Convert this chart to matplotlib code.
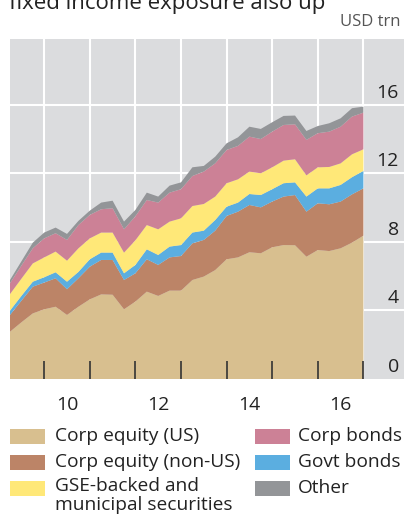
import numpy as np
import matplotlib.pyplot as plt
from matplotlib.patches import Rectangle
from matplotlib.transforms import blended_transform_factory

plt.rcParams['font.family'] = ['Open Sans', 'DejaVu Sans']

# quarterly, end of quarter, 2009Q1 .. 2016Q4
quarters = np.arange(2009.25, 2017.01, 0.25)

corp_equity_us = [2.76, 3.31, 3.83, 4.07, 4.22, 3.74, 4.22, 4.65, 4.94, 4.92, 4.07, 4.52,
                  5.10, 4.85, 5.16, 5.16, 5.78, 5.98, 6.36, 6.99, 7.10, 7.40, 7.34, 7.69,
                  7.82, 7.81, 7.14, 7.53, 7.47, 7.63, 7.96, 8.37]
corp_equity_non_us = [0.98, 1.26, 1.56, 1.56, 1.66, 1.50, 1.66, 1.91, 2.01, 2.03, 1.71, 1.65,
                      1.89, 1.81, 1.94, 2.02, 2.14, 2.14, 2.30, 2.53, 2.67, 2.76, 2.68, 2.67,
                      2.83, 2.93, 2.63, 2.73, 2.73, 2.73, 2.82, 2.76]
govt_bonds = [0.25, 0.28, 0.29, 0.31, 0.35, 0.44, 0.37, 0.43, 0.43, 0.43, 0.39, 0.49,
              0.58, 0.58, 0.63, 0.64, 0.63, 0.54, 0.62, 0.54, 0.53, 0.64, 0.72, 0.72,
              0.78, 0.74, 0.88, 0.87, 0.93, 0.97, 1.00, 1.02]
gse_muni = [0.97, 1.01, 1.07, 1.16, 1.21, 1.23, 1.38, 1.22, 1.17, 1.17, 1.21, 1.44,
            1.42, 1.50, 1.46, 1.56, 1.55, 1.56, 1.37, 1.37, 1.36, 1.31, 1.27, 1.28,
            1.32, 1.35, 1.24, 1.23, 1.25, 1.26, 1.34, 1.26]
corp_bonds = [0.63, 0.76, 0.88, 1.11, 1.07, 1.21, 1.36, 1.37, 1.36, 1.42, 1.36, 1.40,
              1.46, 1.56, 1.69, 1.70, 1.75, 1.89, 1.94, 1.94, 1.95, 2.04, 2.00, 2.08,
              2.08, 2.04, 2.07, 1.99, 2.06, 2.14, 2.20, 2.14]
other = [0.19, 0.25, 0.33, 0.34, 0.33, 0.35, 0.24, 0.25, 0.39, 0.44, 0.45, 0.37,
         0.43, 0.35, 0.41, 0.40, 0.51, 0.33, 0.39, 0.39, 0.50, 0.58, 0.59, 0.55,
         0.53, 0.51, 0.52, 0.42, 0.49, 0.49, 0.49, 0.35]

# stacking order, bottom to top
series = [corp_equity_us, corp_equity_non_us, govt_bonds, gse_muni, corp_bonds, other]
colors = ['#d8bf8f', '#bc8467', '#5baee0', '#ffe878', '#cc8196', '#939598']

yticks = [0, 4, 8, 12, 16]
xlabel_years = [2010, 2012, 2014, 2016]

W, H = 404, 521
fig = plt.figure(figsize=(W / 100, H / 100), dpi=100)
ax = fig.add_axes([10 / W, (H - 379) / H, 394 / W, 340 / H])
ax.set_facecolor('#dbdcde')

ax.stackplot(quarters, *series, colors=colors, linewidth=0, zorder=1)

ax.set_xlim(2009.25, 2017.89)
ax.set_ylim(0, 19.85)

# white grid under the areas
for y in yticks[1:]:
    ax.axhline(y, color='white', lw=1.5, zorder=0.5)
for yr in range(2010, 2018):
    ax.axvline(yr, color='white', lw=1.5, zorder=0.5)

for s in ax.spines.values():
    s.set_visible(False)

ax.set_xticks(range(2010, 2018))
ax.set_xticklabels([])
ax.tick_params(axis='x', which='major', direction='in', length=13, width=1.2, color='#333333')
ax.set_xticks([y + 0.5 for y in xlabel_years], minor=True)
ax.set_xticklabels([str(y)[2:] for y in xlabel_years], minor=True)
ax.tick_params(axis='x', which='minor', length=0, pad=12, labelsize=14, labelcolor='#222222')
ax.set_yticks([])

# value labels sit above each gridline on the right
tr = blended_transform_factory(ax.transAxes, ax.transData)
for y in yticks:
    ax.text(0.987, y + 0.2, str(y), transform=tr, ha='right', va='bottom',
            fontsize=14, color='#222222')

fig.text(400 / W, 1 - 22 / H, 'USD trn', ha='right', va='center', fontsize=12, color='#555555')
fig.text(9 / W, 1 - 9 / H, 'fixed income exposure also up', ha='left', va='baseline',
         fontsize=16, color='#222222')

# legend, two columns
labels = ['Corp equity (US)', 'Corp equity (non-US)', 'GSE-backed and\nmunicipal securities',
          'Corp bonds', 'Govt bonds', 'Other']
legend_colors = [colors[0], colors[1], colors[3], colors[4], colors[2], colors[5]]
rows = [436, 462, 488]
for i, (lab, c) in enumerate(zip(labels, legend_colors)):
    col, row = divmod(i, 3)
    sx = 10 if col == 0 else 255
    tx = 55 if col == 0 else 298
    yc = rows[row]
    fig.add_artist(Rectangle((sx / W, 1 - (yc + 7.5) / H), 35 / W, 15 / H,
                             transform=fig.transFigure, color=c, lw=0))
    if '\n' in lab:
        fig.text(tx / W, 1 - (yc - 11) / H, lab, ha='left', va='top',
                 fontsize=13.8, color='#222222', linespacing=1.1)
    else:
        fig.text(tx / W, 1 - yc / H, lab, ha='left', va='center',
                 fontsize=13.8, color='#222222')

fig.savefig('out.png', dpi=100)
